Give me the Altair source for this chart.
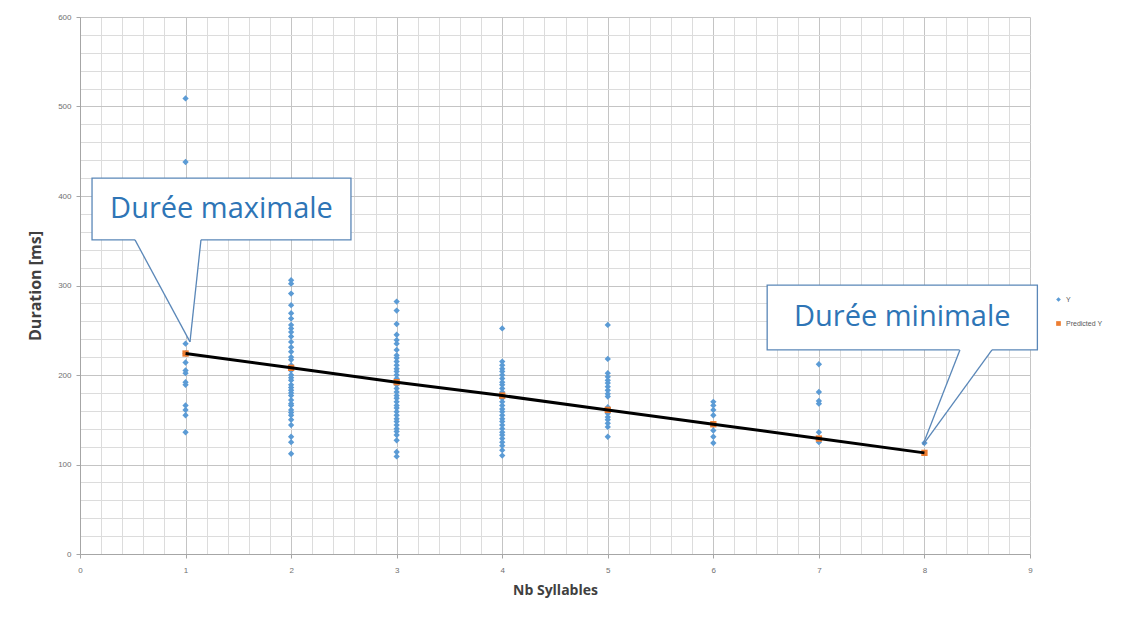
import altair as alt
import pandas as pd

# ---- data ----
syllables = [1, 2, 3, 4, 5, 6, 7, 8]
dur_1 = [509, 438, 235, 224, 214, 205, 202, 192, 189, 166, 161, 155, 136]
dur_2 = [306, 302, 291, 278, 269, 263, 256, 252, 248, 243, 237, 231, 226, 220, 217,
         211, 208, 205, 200, 197, 194, 189, 186, 183, 180, 177, 172, 168, 166, 161,
         158, 155, 150, 144, 131, 125, 112]
dur_3 = [282, 272, 257, 245, 239, 235, 228, 222, 219, 215, 211, 207, 204, 200, 196,
         192, 189, 185, 181, 177, 174, 170, 166, 163, 159, 155, 151, 148, 144, 140,
         137, 133, 127, 114, 109]
dur_4 = [252, 215, 211, 207, 204, 200, 196, 192, 189, 185, 181, 177, 174, 170, 166,
         162, 159, 155, 151, 148, 144, 140, 136, 133, 129, 125, 121, 116, 110]
dur_5 = [256, 218, 202, 198, 194, 191, 187, 183, 179, 176, 164, 161, 157, 153, 150,
         146, 142, 131]
dur_6 = [170, 166, 161, 155, 144, 138, 131, 124]
dur_7 = [212, 181, 171, 168, 136, 128, 125]
dur_8 = [124]
predicted = [224, 208, 192, 177, 161, 145, 129, 113]

series_names = ["Y", "Predicted Y"]
series_colors = ["#5b9bd5", "#ed7d31"]
series_shapes = ["diamond", "square"]

callout_texts = ["Durée maximale", "Durée minimale"]
# callout boxes in data units (x: syllables, y: ms)
box_x = [0.114, 6.51]
box_x2 = [2.567, 9.07]
box_y = [420, 300.5]
box_y2 = [351, 228]
# pointer triangles (x, top, bottom) in data units
ptr1_x = [0.521, 1.042, 1.146]
ptr1_top = [352.5, 352.5, 352.5]
ptr1_bot = [351, 237, 351]
ptr2_x = [7.986, 8.336, 8.640]
ptr2_top = [122, 229.5, 229.5]
ptr2_bot = [122, 178.7, 228]

rows = []
for s, vals in zip(syllables, [dur_1, dur_2, dur_3, dur_4, dur_5, dur_6, dur_7, dur_8]):
    for v in vals:
        rows.append({"syl": s, "dur": v, "series": "Y"})
for s, p in zip(syllables, predicted):
    rows.append({"syl": s, "dur": p, "series": "Predicted Y"})
df = pd.DataFrame(rows)
df_pred = pd.DataFrame({"syl": syllables, "dur": predicted})

df_box = pd.DataFrame({"x": box_x, "x2": box_x2, "y": box_y, "y2": box_y2,
                       "text": callout_texts,
                       "cx": [(a + b) / 2 for a, b in zip(box_x, box_x2)],
                       "cy": [(a + b) / 2 for a, b in zip(box_y, box_y2)]})
df_ptr = pd.concat([
    pd.DataFrame({"x": ptr1_x, "top": ptr1_top, "bot": ptr1_bot, "id": "a"}),
    pd.DataFrame({"x": ptr2_x, "top": ptr2_top, "bot": ptr2_bot, "id": "b"}),
])
df_sides = pd.DataFrame({
    "x": [ptr1_x[0], ptr1_x[2], ptr2_x[1], ptr2_x[2]],
    "y": [ptr1_bot[0], ptr1_bot[2], ptr2_top[1] - 1.5, ptr2_bot[2]],
    "x2": [ptr1_x[1], ptr1_x[1], ptr2_x[0], ptr2_x[0]],
    "y2": [ptr1_bot[1], ptr1_bot[1], ptr2_bot[0], ptr2_bot[0]],
})

x_scale = alt.Scale(domain=[0, 9], nice=False, zero=False)
y_scale = alt.Scale(domain=[0, 600], nice=False)

x_vals = [round(i * 0.2, 1) for i in range(46)]
y_vals = list(range(0, 601, 20))
major_x = "datum.value % 1 === 0"
major_y = "datum.value % 100 === 0"

axis_common = dict(
    labelFont="Liberation Sans", labelFontSize=8, labelColor="#707070",
    titleFont="Open Sans", titleFontWeight="bold", titleColor="#404040",
    domainColor="#a6a6a6", tickSize=4,
)

x_axis = alt.Axis(
    values=x_vals, title="Nb Syllables",
    labelExpr=f"{major_x} ? format(datum.value, 'd') : ''",
    gridColor={"condition": {"test": major_x, "value": "#c4c4c4"}, "value": "#dcdcdc"},
    tickColor={"condition": {"test": major_x, "value": "#a6a6a6"}, "value": "transparent"},
    labelPadding=8, titleFontSize=14, titlePadding=9, labelFlush=False,
    **axis_common,
)
y_axis = alt.Axis(
    values=y_vals, title="Duration [ms]",
    labelExpr=f"{major_y} ? format(datum.value, 'd') : ''",
    gridColor={"condition": {"test": major_y, "value": "#c4c4c4"}, "value": "#dcdcdc"},
    tickColor={"condition": {"test": major_y, "value": "#a6a6a6"}, "value": "transparent"},
    labelPadding=5, titleFontSize=16, titlePadding=14, labelFlush=False,
    **axis_common,
)


def X(field):
    return alt.X(field, scale=x_scale, axis=x_axis, title="Nb Syllables")


def Y(field):
    return alt.Y(field, scale=y_scale, axis=y_axis, title="Duration [ms]")


points = alt.Chart(df).mark_point(filled=True, opacity=1).encode(
    x=X("syl:Q"),
    y=Y("dur:Q"),
    color=alt.Color("series:N", scale=alt.Scale(domain=series_names, range=series_colors),
                    legend=alt.Legend(title=None, orient="none", legendX=975, legendY=279,
                                      labelFontSize=7, labelColor="#595959",
                                      labelFont="Liberation Sans",
                                      symbolSize=22, rowPadding=16)),
    shape=alt.Shape("series:N", scale=alt.Scale(domain=series_names, range=series_shapes)),
    size=alt.value(40),
)

trend = alt.Chart(df_pred).mark_line(color="black", strokeWidth=3).encode(
    x=X("syl:Q"),
    y=Y("dur:Q"),
)

boxes = alt.Chart(df_box).mark_rect(fill="white", stroke="#5a87b8", strokeWidth=1.3).encode(
    x=X("x:Q"), x2="x2:Q",
    y=Y("y:Q"), y2="y2:Q",
)

ptr_fill = alt.Chart(df_ptr).mark_area(color="white", opacity=1).encode(
    x=X("x:Q"),
    y=Y("top:Q"), y2="bot:Q",
    detail="id:N",
)

ptr_sides = alt.Chart(df_sides).mark_rule(color="#5a87b8", strokeWidth=1.3).encode(
    x=X("x:Q"), x2="x2:Q",
    y=Y("y:Q"), y2="y2:Q",
)

labels = alt.Chart(df_box).mark_text(font="Open Sans", fontSize=29, color="#2e75b6",
                                      align="center", baseline="middle").encode(
    x=X("cx:Q"),
    y=Y("cy:Q"),
    text="text:N",
)

chart = alt.layer(points, trend, boxes, ptr_fill, ptr_sides, labels).properties(
    width=950, height=537,
    autosize=alt.AutoSizeParams(type="none"),
    padding={"left": 80, "top": 17, "right": 102, "bottom": 65},
    background="white",
).configure_view(stroke=None)

chart.save("out.html", embed_options={"renderer": "svg", "actions": False})
